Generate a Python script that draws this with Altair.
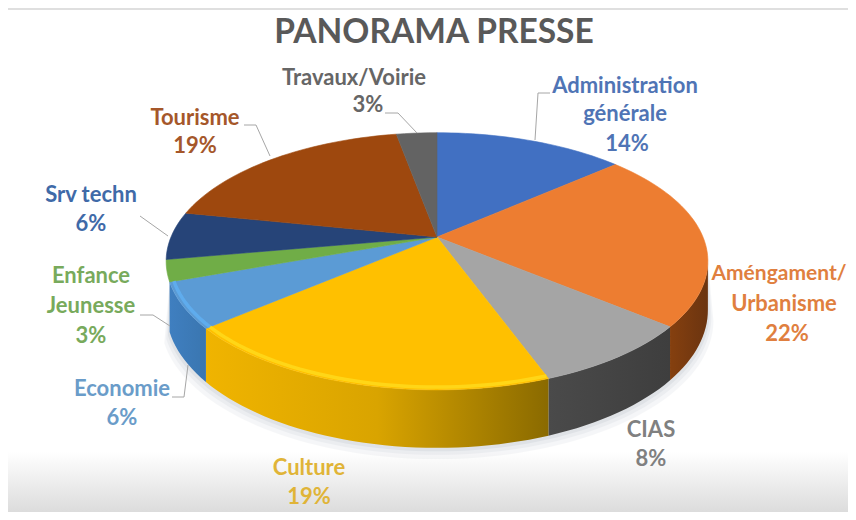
import math
import altair as alt
import pandas as pd

# ---- data
categories = ["Administration générale", "Améngament/Urbanisme", "CIAS", "Culture", "Economie",
              "Enfance Jeunesse", "Srv techn", "Tourisme", "Travaux/Voirie"]
shares = [13.6, 22.4, 8.4, 19.4, 5.7, 2.7, 6.0, 18.9, 2.9]
top_colors = ["#4170C2", "#ED7D31", "#A5A5A5", "#FFC000", "#5B9BD5", "#70AD47", "#264478", "#9E480E", "#636363"]
side_stops = [["#2a4a80", "#2a4a80"], ["#85400f", "#6b3410"], ["#4a4a4a", "#3e3e3e"],
              ["#f0b400", "#d9a400", "#8a6a00"], ["#3f7fc0", "#3a76b0"], ["#4c7a30", "#4c7a30"],
              ["#1a2f55", "#1a2f55"], ["#6e320a", "#6e320a"], ["#444444", "#444444"]]
rim_colors = [None, None, None, "#FFD81A", "#5FAEF0", None, None, None, None]

label_text = ["PANORAMA PRESSE",
              "Travaux/Voirie", "3%",
              "Administration", "générale", "14%",
              "Tourisme", "19%",
              "Srv techn", "6%",
              "Enfance", "Jeunesse", "3%",
              "Economie", "6%",
              "Culture", "19%",
              "CIAS", "8%",
              "Améngament/", "Urbanisme", "22%"]
label_x = [434, 354, 368, 625, 625, 627, 195, 195, 91, 91, 91, 91, 91, 122, 122, 309, 309, 651, 651, 779, 784, 787]
label_y = [33, 78, 105, 86, 114, 144, 118, 146, 195, 224, 276, 306, 336, 389, 418, 468, 497, 430, 459, 274, 304, 334]
label_size = [33.5, 22, 22, 22, 22, 22, 22, 22, 22, 22, 22, 22, 22, 22, 22, 22, 22, 22, 22, 21, 22, 22]
label_color = ["#595959", "#666666", "#666666", "#4f74b5", "#4f74b5", "#4f74b5", "#a5572a", "#a5572a",
               "#3f6aa8", "#3f6aa8", "#78aa5c", "#78aa5c", "#78aa5c", "#6a9cc9", "#6a9cc9",
               "#e0b437", "#e0b437", "#808080", "#808080", "#e07f3f", "#e07f3f", "#e07f3f"]

leader_x = [[550, 538, 535], [385, 398, 417], [244, 256, 270], [140, 168], [140, 153, 170], [172, 184, 188]]
leader_y = [[93, 93, 140], [113, 113, 133], [125, 125, 156], [216, 236], [315, 315, 326], [397, 397, 365]]

CX, CY, A, B, K, DEPTH = 437, 237, 266, 124, 0.189, 47


def project(pct, r=1.0):
    t = math.radians(pct * 3.6)
    X, Y = r * math.sin(t), r * math.cos(t)
    d = 1 + K * Y
    return CX + A * X / d, CY - B * Y / d, d


def arc(p0, p1, r=1.0):
    n = max(2, int(abs(p1 - p0) * 2))
    return [p0 + (p1 - p0) * i / n for i in range(n + 1)]


W, H = 840, 504
XMAX, YMAX = 8 + W, 8 + H
xs = alt.X("x:Q", scale=alt.Scale(domain=[8, XMAX]), axis=None)
ys = alt.Y("y:Q", scale=alt.Scale(domain=[YMAX, 8]), axis=None)


def poly(points, fill, stroke=None, sw=0.6, opacity=1.0):
    df = pd.DataFrame({"x": [p[0] for p in points], "y": [p[1] for p in points], "o": range(len(points))})
    return alt.Chart(df).mark_line(interpolate="linear-closed", fill=fill, stroke=stroke or "transparent",
                                   strokeWidth=sw, opacity=opacity).encode(x=xs, y=ys, order="o:Q")


def path(points, color, sw, opacity=1.0):
    df = pd.DataFrame({"x": [p[0] for p in points], "y": [p[1] for p in points], "o": range(len(points))})
    return alt.Chart(df).mark_line(stroke=color, strokeWidth=sw, opacity=opacity).encode(x=xs, y=ys, order="o:Q")


layers = []

# backdrop: gradient at the bottom of the frame, thin frame line on top
bg = pd.DataFrame({"x": [8], "x2": [XMAX], "y": [452], "y2": [YMAX]})
layers.append(alt.Chart(bg).mark_rect(
    fill=alt.Gradient(gradient="linear", x1=0, x2=0, y1=0, y2=1,
                      stops=[alt.GradientStop(color="#ffffff", offset=0),
                             alt.GradientStop(color="#dcdcdc", offset=1)])
).encode(x=xs, x2="x2:Q", y=ys, y2="y2:Q"))
layers.append(path([(8, 9), (XMAX, 9)], "#d4d4d4", 1.5))

# soft shadow under the pie
VIS0, VIS1 = 28, 69.5
for grow, op in [(16, 0.05), (10, 0.06), (5, 0.08)]:
    pts = []
    for p in arc(VIS0, VIS1):
        x, y, d = project(p)
        pts.append((x + grow * 0.35 * math.sin(math.radians(p * 3.6)), y + DEPTH / d + grow * 0.7))
    for p in arc(VIS1, VIS0):
        x, y, d = project(p)
        pts.append((x, y))
    layers.append(poly(pts, "#5a6a80", opacity=op))

# side walls
start = 0
limits = []
for s in shares:
    limits.append((start, start + s))
    start += s
for i, (p0, p1) in enumerate(limits):
    a, b = max(p0, VIS0), min(p1, VIS1)
    if a >= b:
        continue
    top = [project(p) for p in arc(a, b)]
    bottom = [(x, y + DEPTH / d) for x, y, d in reversed(top)]
    pts = [(x, y) for x, y, _ in top] + bottom
    stops = side_stops[i]
    grad = alt.Gradient(gradient="linear", x1=0, x2=1, y1=0, y2=0,
                        stops=[alt.GradientStop(color=c, offset=j / (len(stops) - 1)) for j, c in enumerate(stops)])
    layers.append(poly(pts, grad))

# top face
for i, (p0, p1) in enumerate(limits):
    pts = [(CX, CY)] + [project(p)[:2] for p in arc(p0, p1)]
    layers.append(poly(pts, top_colors[i], stroke=top_colors[i]))

# bevel highlight along the front edge
for i, (p0, p1) in enumerate(limits):
    a, b = max(p0, VIS0), min(p1, VIS1)
    if a >= b or rim_colors[i] is None:
        continue
    layers.append(path([project(p, 0.985)[:2] for p in arc(a, b)], rim_colors[i], 3.5, 0.9))

# leader lines
for lx, ly in zip(leader_x, leader_y):
    layers.append(path(list(zip(lx, ly)), "#a6a6a6", 1))

# texts
labels = pd.DataFrame({"x": label_x, "y": label_y, "t": label_text, "c": label_color, "s": label_size})
layers.append(alt.Chart(labels).mark_text(font="Lato", fontWeight="bold", align="center", baseline="middle").encode(
    x=xs, y=ys, text="t:N",
    color=alt.Color("c:N", scale=None),
    size=alt.Size("s:Q", scale=None)))

chart = alt.layer(*layers).properties(width=W, height=H, padding=0, autosize="none",
                                      background="#ffffff").configure_view(stroke=None)
chart.save("out.html", embed_options={"renderer": "svg", "actions": False})
